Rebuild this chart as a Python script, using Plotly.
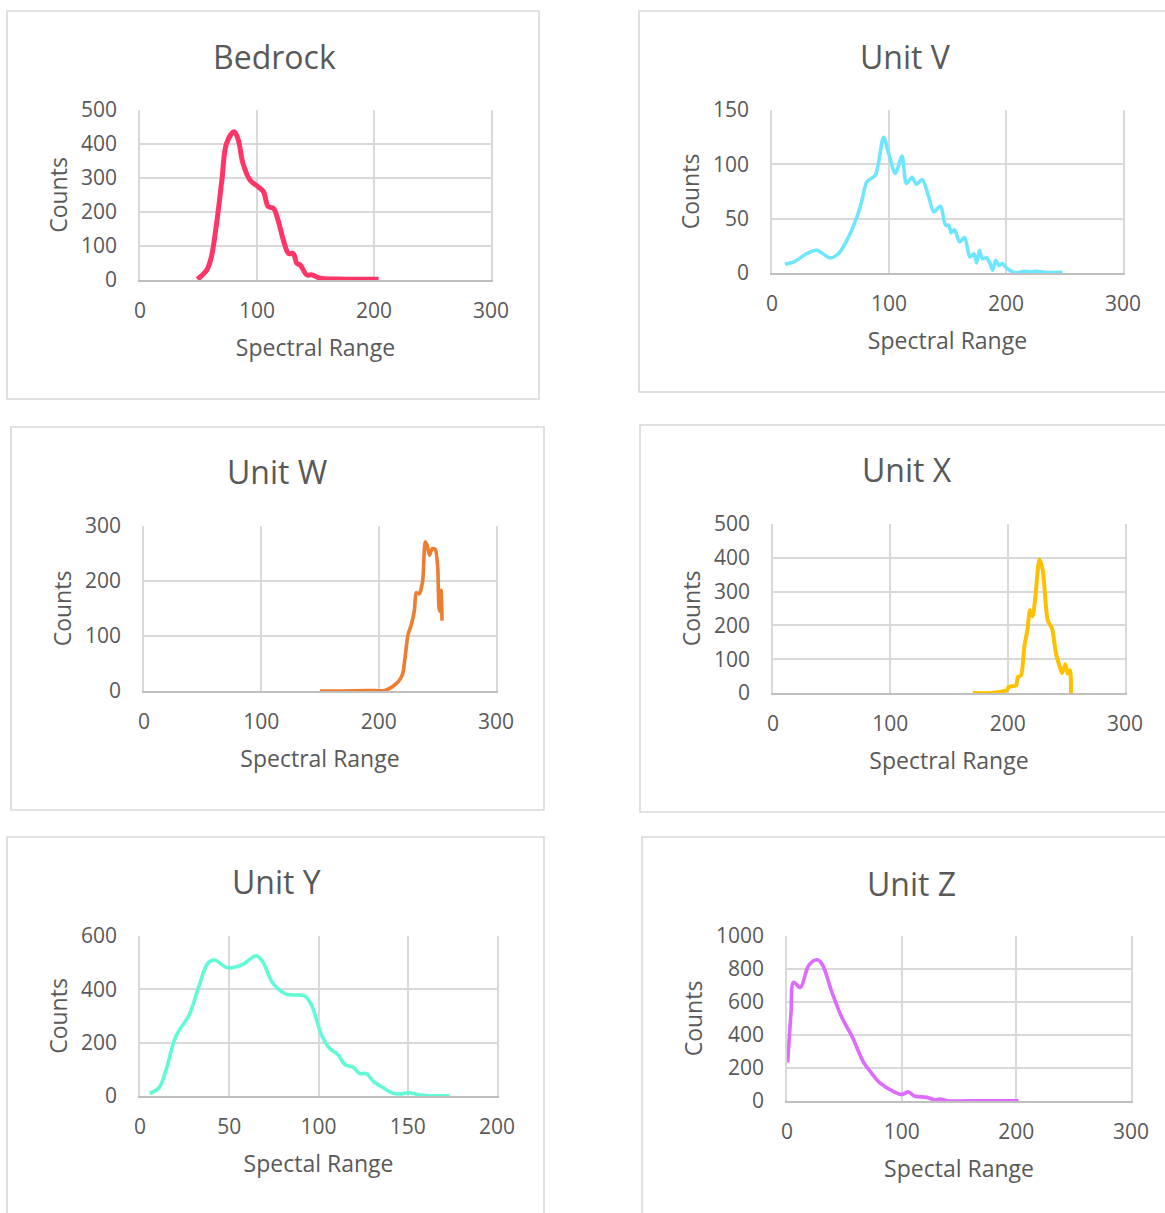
import plotly.graph_objects as go

# ---------------- data ----------------
bedrock_x = [49, 57, 61, 65.5, 70, 74, 80.5, 84, 88, 94, 101, 105.5, 109.5, 114, 118, 122.5, 127, 131, 134, 137, 142.5, 147, 154, 168, 185, 204]
bedrock_y = [2, 29, 68, 167, 294, 402, 436, 412, 343, 294, 274, 260, 216, 211, 176, 118, 78, 78, 49, 44, 15, 15, 5, 3, 2, 2]

unit_v_x = [11, 19.7, 29.7, 38.3, 45.4, 49.7, 56.9, 64, 72.6, 76.9, 81.1, 88.3, 95.4, 99.7, 105.4, 111.1, 114.9, 119.7, 123.4, 128.3, 134, 138.3, 144, 148.3, 151.1, 153.1, 156, 160.3, 164.6, 169.1, 172.6, 174.9, 177.4, 179.7, 183.4, 186.3, 188.6, 191.1, 194, 196.9, 201.1, 208.3, 215.4, 221.1, 226.9, 232.6, 248.3]
unit_v_y = [8, 10.8, 17.9, 20.9, 16.3, 13.8, 17.9, 30, 51.6, 67, 83.9, 90, 124.8, 110, 91.6, 107.6, 82.4, 88, 81.7, 86, 70, 56.3, 61.5, 44, 44, 36.9, 39.8, 28.6, 32.6, 14.8, 17.7, 9.2, 20.9, 13.2, 14, 9, 2.5, 11.6, 7, 8.6, 4, 0.3, 1.5, 1, 1.5, 0.6, 0.6]

unit_w_x = [150, 170, 192, 199.5, 205, 209.3, 213.6, 217.8, 220.6, 222.9, 224.9, 227.7, 230.5, 231.9, 234.8, 237.6, 239.6, 241.3, 243.3, 245.6, 248.4, 250.4, 251.5, 252.5, 253.3, 254]
unit_w_y = [0, 0, 1, 0.5, 1, 4.8, 10.9, 20, 32, 68, 101.6, 119.8, 147, 178.5, 177, 201.5, 271, 265, 247, 259, 257, 223, 150, 145, 183, 128]

unit_x_x = [170.3, 187.3, 195.8, 199.3, 201, 207.2, 208.6, 211.4, 214.2, 217, 219, 221.3, 223.6, 227, 229.9, 234.1, 237.8, 241.2, 244, 246.3, 249.2, 251.2, 253.2, 254]
unit_x_y = [0, 0, 5, 8, 17.8, 22.7, 47.4, 52, 136, 191, 245, 227, 284.6, 395, 363.7, 215, 191, 116.8, 82, 59, 85, 57, 67, 0]

unit_y_x = [5.4, 10.7, 14.4, 20.1, 27.6, 33.2, 37.9, 41.6, 49.1, 57.5, 65.1, 68.8, 74.4, 81.9, 92.2, 96, 101.6, 106.3, 111, 114.7, 119.4, 123.1, 126.9, 130.6, 136.3, 141.9, 146.6, 150.3, 156.9, 164.4, 173.4]
unit_y_y = [10, 31, 93, 224, 305, 416, 497, 510, 481, 493, 526, 503, 423, 382, 375, 342, 230, 178, 155, 118, 108, 84, 84, 56, 31, 10, 8, 12, 4, 1, 1]

unit_z_x = [0.6, 3.5, 5.8, 11.6, 18.9, 26.1, 30.5, 39.2, 47.9, 56.6, 66.8, 72.6, 81.3, 93, 100.2, 106, 111, 122, 129.3, 133.6, 139.4, 159.8, 202]
unit_z_y = [234, 535, 719, 688, 821, 856, 831, 658, 505, 393, 234, 179, 108, 57, 40, 55, 30, 22, 6, 12, 2, 1, 1]

panel_titles = ["Bedrock", "Unit V", "Unit W", "Unit X", "Unit Y", "Unit Z"]
x_titles = ["Spectral Range", "Spectral Range", "Spectral Range", "Spectral Range", "Spectal Range", "Spectal Range"]
y_title = "Counts"
x_ranges = [[0, 300], [0, 300], [0, 300], [0, 300], [0, 200], [0, 300]]
x_dticks = [100, 100, 100, 100, 50, 100]
y_ranges = [[0, 500], [0, 150], [0, 300], [0, 500], [0, 600], [0, 1000]]
y_dticks = [100, 50, 100, 100, 200, 200]

series = [
    (bedrock_x, bedrock_y),
    (unit_v_x, unit_v_y),
    (unit_w_x, unit_w_y),
    (unit_x_x, unit_x_y),
    (unit_y_x, unit_y_y),
    (unit_z_x, unit_z_y),
]

# ---------------- styling / layout ----------------
W, H = 1165, 1213
colors = ["#FF3568", "#6FE6FF", "#ED7D31", "#FFC000", "#62FAD6", "#DE6BFF"]
widths = [5, 3.6, 3.6, 4, 3.6, 3.6]
smooth = [1.0, 0.8, 0.5, 0.6, 1.0, 1.0]

# plot-area pixel boxes (left, top, right, bottom)
plot_boxes = [
    (140, 110, 491, 280),
    (772, 110, 1123, 273),
    (144, 526, 496, 691),
    (773, 524, 1125, 693),
    (140, 936, 497, 1096),
    (787, 936, 1131, 1101),
]
# outer panel frames (left, top, right, bottom)
frames = [
    (7, 11, 539, 399),
    (639, 11, 1175, 392),
    (11, 427, 544, 810),
    (640, 425, 1175, 812),
    (7, 837, 544, 1225),
    (642, 837, 1175, 1225),
]
title_pos = [(274, 56), (905, 56), (277, 472), (907, 469), (276, 881), (911, 883)]

FONT = "Open Sans"
TXT = "#595959"
GRID = "#D9D9D9"


def px(x):
    return x / W


def py(y):
    return 1 - y / H


fig = go.Figure()
shapes = []
annotations = []
for i, (xs, ys) in enumerate(series):
    n = "" if i == 0 else str(i + 1)
    fig.add_trace(go.Scatter(
        x=xs, y=ys, mode="lines",
        line=dict(color=colors[i], width=widths[i], shape="spline", smoothing=smooth[i]),
        xaxis="x" + n, yaxis="y" + n, showlegend=False, name=panel_titles[i],
    ))
    l, t, r, b = plot_boxes[i]
    fig.layout["xaxis" + n] = dict(
        domain=[px(l), px(r)], range=x_ranges[i], dtick=x_dticks[i], tick0=0,
        anchor="y" + n, showgrid=True, gridcolor=GRID, gridwidth=1.6,
        zeroline=False, showline=True, linecolor="#BFBFBF", linewidth=1.6,
        ticks="", ticklabelstandoff=11, automargin=False,
        tickfont=dict(family=FONT, size=21, color=TXT),
        title=dict(text=x_titles[i], font=dict(family=FONT, size=23, color=TXT), standoff=17),
        fixedrange=True,
    )
    fig.layout["yaxis" + n] = dict(
        domain=[py(b), py(t)], range=y_ranges[i], dtick=y_dticks[i], tick0=0,
        anchor="x" + n, showgrid=True, gridcolor=GRID, gridwidth=1.6,
        zeroline=False, showline=True, mirror=True, linecolor=GRID, linewidth=1.6,
        ticks="", ticklabelstandoff=17, automargin=False,
        tickfont=dict(family=FONT, size=21, color=TXT),
        title=dict(text=y_title, font=dict(family=FONT, size=23, color=TXT), standoff=7),
        fixedrange=True,
    )
    fl, ft, fr, fb = frames[i]
    shapes.append(dict(type="rect", xref="paper", yref="paper",
                       x0=px(fl), x1=px(fr), y0=py(fb), y1=py(ft),
                       line=dict(color=GRID, width=1.6), fillcolor="rgba(0,0,0,0)", layer="below"))
    tx, ty = title_pos[i]
    annotations.append(dict(text=panel_titles[i], xref="paper", yref="paper",
                            x=px(tx), y=py(ty), xanchor="center", yanchor="middle",
                            showarrow=False, font=dict(family=FONT, size=32, color=TXT)))

fig.update_layout(
    width=W, height=H, margin=dict(l=0, r=0, t=0, b=0),
    paper_bgcolor="white", plot_bgcolor="white",
    shapes=shapes, annotations=annotations, showlegend=False,
)

fig.write_html("out.html", config={"displayModeBar": False},
               post_script="document.body.style.margin='0';document.body.style.overflow='hidden';")
